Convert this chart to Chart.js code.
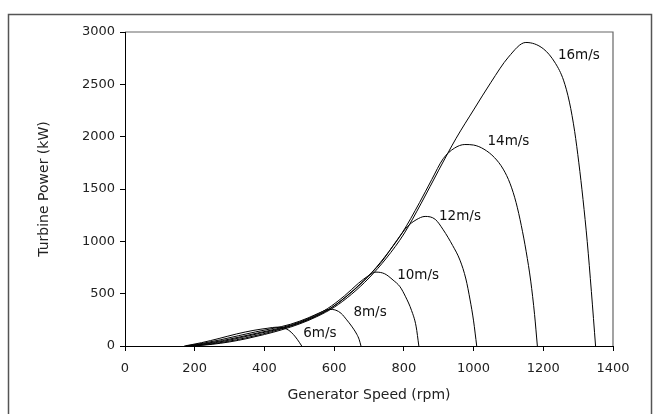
<!DOCTYPE html>
<html lang="en">

<head>
    <meta charset="UTF-8">
    <meta name="viewport" content="width=device-width, initial-scale=1.0">
    <script src="https://cdn.jsdelivr.net/npm/chart.js"></script>
    <title>Turbine Power</title>
    <style>
        html, body { margin: 0; padding: 0; background: #fff; }
        .box { position: relative; width: 656px; height: 414px; }
    </style>
</head>

<body>
    <div class="box">
        <canvas id="myChartCanvas" width="656" height="414"></canvas>
    </div>
</body>

</html>
<script>
    // curves: generator speed (rpm) and turbine power (kW)
    const rpm6 = [170, 220, 270, 320, 370, 410, 435, 455, 470, 483, 495, 507];
    const kw6 = [0, 32, 72, 115, 150, 170, 180, 172, 150, 110, 60, 0];

    const rpm8 = [175, 225, 275, 325, 375, 425, 475, 525, 560, 585, 605, 620, 636, 650, 665, 672, 677];
    const kw8 = [0, 27, 60, 98, 135, 168, 208, 268, 320, 350, 342, 312, 250, 190, 112, 60, 0];

    const rpm10 = [180, 230, 280, 330, 380, 430, 480, 530, 580, 630, 670, 700, 720, 745, 769, 789, 805, 822, 835, 843];
    const kw10 = [0, 23, 52, 87, 124, 160, 205, 268, 355, 480, 600, 675, 706, 690, 630, 566, 470, 340, 190, 0];

    const rpm12 = [185, 235, 285, 335, 385, 435, 485, 535, 585, 635, 685, 735, 780, 810, 835, 861, 890, 913, 940, 961, 978, 990, 1000, 1009];
    const kw12 = [0, 21, 47, 82, 120, 157, 202, 264, 350, 475, 625, 800, 1010, 1140, 1205, 1238, 1210, 1110, 960, 820, 640, 440, 240, 0];

    const rpm14 = [195, 245, 295, 345, 395, 445, 495, 545, 595, 645, 695, 745, 795, 845, 880, 913, 945, 975, 1000, 1030, 1060, 1085, 1105, 1122, 1137, 1151, 1164, 1175, 1183];
    const kw14 = [0, 19, 44, 77, 115, 160, 214, 283, 372, 500, 655, 850, 1080, 1370, 1590, 1790, 1890, 1925, 1920, 1880, 1800, 1690, 1550, 1370, 1150, 900, 620, 300, 0];

    const rpm16 = [200, 250, 300, 350, 400, 450, 500, 550, 600, 650, 700, 750, 800, 850, 900, 950, 1000, 1050, 1100, 1150, 1200, 1235, 1258, 1275, 1290, 1302, 1314, 1326, 1338, 1350];
    const kw16 = [0, 16, 39, 71, 110, 155, 210, 280, 370, 495, 650, 840, 1070, 1365, 1680, 1985, 2255, 2520, 2760, 2900, 2840, 2700, 2540, 2330, 2050, 1750, 1400, 1000, 520, 0];

    // curve labels and where they sit (in data units)
    const windLabels = ['6m/s', '8m/s', '10m/s', '12m/s', '14m/s', '16m/s'];
    const labelRpm = [559, 703, 841, 961, 1100, 1302];
    const labelKw = [119, 317, 678, 1235, 1958, 2773];

    const xTicks = [0, 200, 400, 600, 800, 1000, 1200, 1400];
    const yTicks = [0, 500, 1000, 1500, 2000, 2500, 3000];

    const FONT = 'DejaVu Sans';

    function pontos(xs, ys) {
        let out = [];
        for (let i = 0; i < xs.length; i++) {
            out.push({ x: xs[i], y: ys[i] });
        }
        return out;
    }

    const series = [
        [rpm6, kw6], [rpm8, kw8], [rpm10, kw10],
        [rpm12, kw12], [rpm14, kw14], [rpm16, kw16]
    ];

    let datasets = series.map(function (s, i) {
        return {
            label: windLabels[i],
            data: pontos(s[0], s[1]),
            borderColor: '#000',
            borderWidth: 1,
            pointRadius: 0,
            fill: false,
            cubicInterpolationMode: 'monotone'
        };
    });

    // outer frame + top/right edge of the plot box
    const framePlugin = {
        id: 'frame',
        beforeDraw(chart) {
            const ctx = chart.ctx;
            const a = chart.chartArea;
            ctx.save();
            ctx.strokeStyle = '#555';
            ctx.lineWidth = 1.5;
            ctx.strokeRect(8.5, 14.5, 643, 500);
            ctx.strokeStyle = '#666';
            ctx.lineWidth = 1.2;
            ctx.beginPath();
            ctx.moveTo(a.left, a.top);
            ctx.lineTo(a.right, a.top);
            ctx.lineTo(a.right, a.bottom);
            ctx.stroke();
            ctx.restore();
        }
    };

    // wind speed labels next to each curve
    const labelPlugin = {
        id: 'windLabels',
        afterDatasetsDraw(chart) {
            const ctx = chart.ctx;
            const xs = chart.scales.x;
            const ys = chart.scales.y;
            ctx.save();
            ctx.fillStyle = '#111';
            ctx.font = '13.5px "' + FONT + '"';
            ctx.textAlign = 'center';
            ctx.textBaseline = 'middle';
            for (let i = 0; i < windLabels.length; i++) {
                ctx.fillText(windLabels[i], xs.getPixelForValue(labelRpm[i]), ys.getPixelForValue(labelKw[i]));
            }
            ctx.restore();
        }
    };

    const config = {
        type: 'line',
        data: { datasets: datasets },
        options: {
            responsive: false,
            animation: false,
            layout: { padding: { left: 0, top: 32, right: 43, bottom: 0 } },
            plugins: { legend: { display: false }, tooltip: { enabled: false } },
            scales: {
                x: {
                    type: 'linear',
                    min: 0,
                    max: 1400,
                    afterBuildTicks: function (axis) { axis.ticks = xTicks.map(v => ({ value: v })); },
                    afterFit: function (axis) { axis.height = 68; },
                    grid: { drawOnChartArea: false, drawTicks: true, tickLength: 5, color: '#000' },
                    border: { color: '#000', width: 1 },
                    ticks: {
                        color: '#222',
                        padding: 10,
                        font: { family: FONT, size: 13 },
                        callback: function (v) { return String(v); }
                    },
                    title: {
                        display: true,
                        text: 'Generator Speed (rpm)',
                        color: '#222',
                        padding: { top: 10, bottom: 10 },
                        font: { family: FONT, size: 14 }
                    }
                },
                y: {
                    min: 0,
                    max: 3000,
                    afterBuildTicks: function (axis) { axis.ticks = yTicks.map(v => ({ value: v })); },
                    afterFit: function (axis) { axis.width = 125; },
                    grid: { drawOnChartArea: false, drawTicks: true, tickLength: 5, color: '#000' },
                    border: { color: '#000', width: 1 },
                    ticks: {
                        color: '#222',
                        padding: 5,
                        font: { family: FONT, size: 13 },
                        callback: function (v) { return String(v); }
                    },
                    title: {
                        display: true,
                        text: 'Turbine Power (kW)',
                        color: '#222',
                        padding: { top: 36, bottom: 0 },
                        font: { family: FONT, size: 14 }
                    }
                }
            }
        },
        plugins: [framePlugin, labelPlugin]
    };

    let myChart = new Chart(document.getElementById('myChartCanvas'), config);
</script>
